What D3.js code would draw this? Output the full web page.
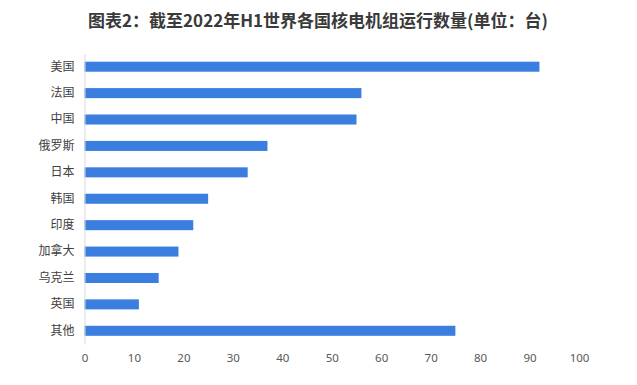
<!DOCTYPE html>
<html>
<head>
<meta charset="utf-8">
<script src="https://cdn.jsdelivr.net/npm/d3@7"></script>
<style>
  body { margin: 0; background: #fff; }
</style>
</head>
<body>
<div id="chart"></div>
<script>
// data
var countries = ["美国", "法国", "中国", "俄罗斯", "日本", "韩国", "印度", "加拿大", "乌克兰", "英国", "其他"];
var units = [92, 56, 55, 37, 33, 25, 22, 19, 15, 11, 75];
var xTicks = [0, 10, 20, 30, 40, 50, 60, 70, 80, 90, 100];

var width = 637, height = 385;
var margin = {top: 53.5, right: 58, bottom: 41, left: 84.5};

var svg = d3.select("#chart")
    .append("svg")
    .attr("width", width)
    .attr("height", height);

svg.append("text")
    .attr("x", 318)
    .attr("y", 27)
    .attr("text-anchor", "middle")
    .attr("font-family", "Noto Sans CJK SC, sans-serif")
    .attr("font-weight", "bold")
    .attr("font-size", 17)
    .attr("fill", "#3a3a3a")
    .text("图表2：截至2022年H1世界各国核电机组运行数量(单位：台)");

var x = d3.scaleLinear()
    .domain([0, 100])
    .range([margin.left, width - margin.right]);

var y = d3.scaleBand()
    .domain(countries)
    .range([margin.top, height - margin.bottom])
    .paddingInner(0.62)
    .paddingOuter(0.31);

var rows = countries.map(function (c, i) {
    return {name: c, value: units[i]};
});

svg.selectAll(".bar")
    .data(rows)
    .enter()
    .append("rect")
    .attr("class", "bar")
    .attr("x", x(0))
    .attr("y", function (d) { return y(d.name); })
    .attr("width", function (d) { return x(d.value) - x(0); })
    .attr("height", y.bandwidth())
    .attr("fill", "#3a7fe0");

// value axis (labels only)
var xAxis = svg.append("g")
    .attr("transform", "translate(0," + (height - margin.bottom) + ")")
    .call(d3.axisBottom(x).tickValues(xTicks).tickSize(0).tickPadding(10));
xAxis.select(".domain").remove();
xAxis.selectAll("text")
    .attr("font-family", "Noto Sans, sans-serif")
    .attr("font-size", 11.5)
    .attr("fill", "#595959");

// category axis
var yAxis = svg.append("g")
    .attr("transform", "translate(" + x(0) + ",0)")
    .call(d3.axisLeft(y).tickSize(0).tickPadding(10).tickSizeOuter(0));
yAxis.select(".domain")
    .attr("stroke", "#d9d9d9");
yAxis.selectAll("text")
    .attr("font-family", "Noto Sans CJK SC, sans-serif")
    .attr("font-size", 12)
    .attr("fill", "#404040");
</script>
</body>
</html>
